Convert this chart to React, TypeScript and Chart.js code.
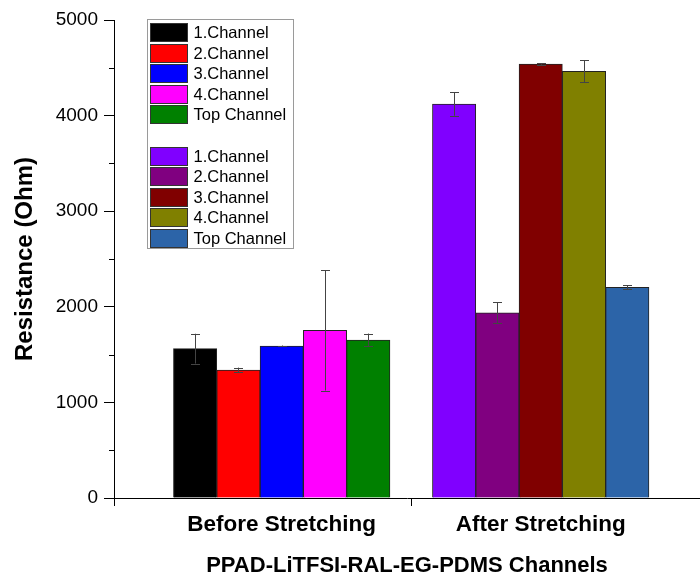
import React, { useEffect, useRef } from 'react';
import { Chart, registerables } from 'chart.js';

Chart.register(...registerables);

// ---- data ----
const categories = ['Before Stretching', 'After Stretching'];
const categoryPositions = [1, 2];
const channelLabels = ['1.Channel', '2.Channel', '3.Channel', '4.Channel', 'Top Channel'];
const beforeValues = [1562, 1339, 1590, 1754, 1653];
const beforeErrors = [156, 25, 5, 630, 67];
const afterValues = [4121, 1938, 4540, 4463, 2204];
const afterErrors = [122, 108, 8, 115, 21];
const beforeColors = ['#000000', '#FF0000', '#0000FF', '#FF00FF', '#008000'];
const afterColors = ['#8000FF', '#800080', '#800000', '#808000', '#2C64A8'];
const yMin = 0;
const yMax = 5000;
const yMajorStep = 1000;
const yMinorStep = 500;
const xMin = 0.3525;
const xMax = 2.615;
const dividerPosition = 1.5;
const yTitle = 'Resistance (Ohm)';
const xTitle = 'PPAD-LiTFSI-RAL-EG-PDMS Channels';

const FONT = '"Liberation Sans", Arial, Helvetica, sans-serif';

const errorBarPlugin = {
  id: 'errorBars',
  afterDatasetsDraw(chart: any) {
    const ctx = chart.ctx;
    const yScale = chart.scales.y;
    ctx.save();
    ctx.strokeStyle = '#444';
    ctx.lineWidth = 1;
    chart.data.datasets.forEach((ds: any, i: number) => {
      const meta = chart.getDatasetMeta(i);
      meta.data.forEach((bar: any, j: number) => {
        const v = ds.data[j].y;
        const e = ds.errors[j];
        const yTop = yScale.getPixelForValue(v + e);
        const yBot = yScale.getPixelForValue(v - e);
        const x = Math.round(bar.x) + 0.5;
        ctx.beginPath();
        ctx.moveTo(x, yTop);
        ctx.lineTo(x, yBot);
        ctx.moveTo(x - 4.5, Math.round(yTop) + 0.5);
        ctx.lineTo(x + 4.5, Math.round(yTop) + 0.5);
        ctx.moveTo(x - 4.5, Math.round(yBot) + 0.5);
        ctx.lineTo(x + 4.5, Math.round(yBot) + 0.5);
        ctx.stroke();
      });
    });
    ctx.restore();
  },
};

const minorTickPlugin = {
  id: 'minorTicks',
  afterDraw(chart: any) {
    const ctx = chart.ctx;
    const yScale = chart.scales.y;
    const left = chart.chartArea.left;
    ctx.save();
    ctx.strokeStyle = '#000';
    ctx.lineWidth = 1;
    for (let v = yMin + yMinorStep; v < yMax; v += yMajorStep) {
      const y = Math.round(yScale.getPixelForValue(v)) + 0.5;
      ctx.beginPath();
      ctx.moveTo(left - 5, y);
      ctx.lineTo(left, y);
      ctx.stroke();
    }
    ctx.restore();
  },
};

const legendPlugin = {
  id: 'channelLegend',
  afterDraw(chart: any) {
    const ctx = chart.ctx;
    const area = chart.chartArea;
    const left = Math.round(area.left + 33) + 0.5;
    const top = Math.round(area.top) - 0.5;
    const w = 146;
    const h = 229;
    const pitch = 20.6;
    const rows: ({ label: string; color: string } | null)[] = [];
    channelLabels.forEach((l, i) => rows.push({ label: l, color: beforeColors[i] }));
    rows.push(null);
    channelLabels.forEach((l, i) => rows.push({ label: l, color: afterColors[i] }));
    ctx.save();
    ctx.fillStyle = '#fff';
    ctx.fillRect(left, top, w, h);
    ctx.strokeStyle = '#9a9a9a';
    ctx.lineWidth = 1;
    ctx.strokeRect(left, top, w, h);
    ctx.font = `16.5px ${FONT}`;
    ctx.textBaseline = 'middle';
    ctx.textAlign = 'left';
    rows.forEach((r, idx) => {
      if (!r) return;
      const y = Math.round(top + 3.4 + idx * pitch);
      ctx.fillStyle = r.color;
      ctx.fillRect(left + 3, y, 37, 18);
      ctx.strokeStyle = '#333';
      ctx.strokeRect(left + 3, y + 0.5, 37, 18);
      ctx.fillStyle = '#000';
      ctx.fillText(r.label, left + 46, y + 10);
    });
    ctx.restore();
  },
};

export default function App() {
  const canvasRef = useRef<HTMLCanvasElement | null>(null);

  useEffect(() => {
    document.body.style.margin = '0';
    const canvas = canvasRef.current;
    if (!canvas) return;

    const datasets = channelLabels.map((label, i) => ({
      label,
      data: categoryPositions.map((x, j) => ({ x, y: j === 0 ? beforeValues[i] : afterValues[i] })),
      errors: [beforeErrors[i], afterErrors[i]],
      backgroundColor: [beforeColors[i], afterColors[i]],
      borderColor: '#222',
      borderWidth: 1,
      barThickness: 43.3,
    }));

    const chart = new Chart(canvas, {
      type: 'bar',
      data: { datasets } as any,
      options: {
        responsive: false,
        animation: false,
        layout: { padding: { top: 20, left: 0, right: 0, bottom: 0 } },
        plugins: {
          legend: { display: false },
          tooltip: { enabled: false },
        },
        scales: {
          x: {
            type: 'linear',
            min: xMin,
            max: xMax,
            offset: false,
            afterBuildTicks: (s: any) => {
              s.ticks = [xMin, ...categoryPositions, dividerPosition]
                .sort((a, b) => a - b)
                .map((v) => ({ value: v }));
            },
            afterFit: (s: any) => {
              s.height = 81;
            },
            ticks: {
              autoSkip: false,
              maxRotation: 0,
              padding: 5,
              color: '#000',
              font: { family: FONT, size: 22.5, weight: 'bold' },
              callback: (v: any) => {
                const idx = categoryPositions.indexOf(Number(v));
                return idx >= 0 ? categories[idx] : '';
              },
            },
            grid: {
              offset: false,
              drawOnChartArea: false,
              drawTicks: true,
              tickLength: 8,
              tickWidth: 1,
              tickColor: (c: any) =>
                c.tick && (c.tick.value === dividerPosition || c.tick.value === xMin) ? '#000' : 'rgba(0,0,0,0)',
            },
            border: { display: true, color: '#000', width: 1 },
            title: {
              display: true,
              text: xTitle,
              color: '#000',
              font: { family: FONT, size: 22, weight: 'bold' },
              padding: { top: 4, bottom: 0 },
            },
          } as any,
          y: {
            min: yMin,
            max: yMax,
            afterFit: (s: any) => {
              s.width = 114;
            },
            ticks: {
              stepSize: yMajorStep,
              padding: 6,
              color: '#000',
              font: { family: FONT, size: 19 },
              callback: (v: any) => String(v),
            },
            grid: {
              drawOnChartArea: false,
              drawTicks: true,
              tickLength: 10,
              tickColor: '#000',
            },
            border: { display: true, color: '#000', width: 1 },
            title: {
              display: true,
              text: yTitle,
              color: '#000',
              font: { family: FONT, size: 24, weight: 'bold' },
              padding: { top: 11, bottom: 0 },
            },
          },
        },
      },
      plugins: [errorBarPlugin, minorTickPlugin, legendPlugin],
    });

    return () => {
      chart.destroy();
    };
  }, []);

  return (
    <div style={{ width: 700, height: 579, background: '#fff' }}>
      <canvas ref={canvasRef} width={700} height={579} style={{ display: 'block' }} />
    </div>
  );
}
